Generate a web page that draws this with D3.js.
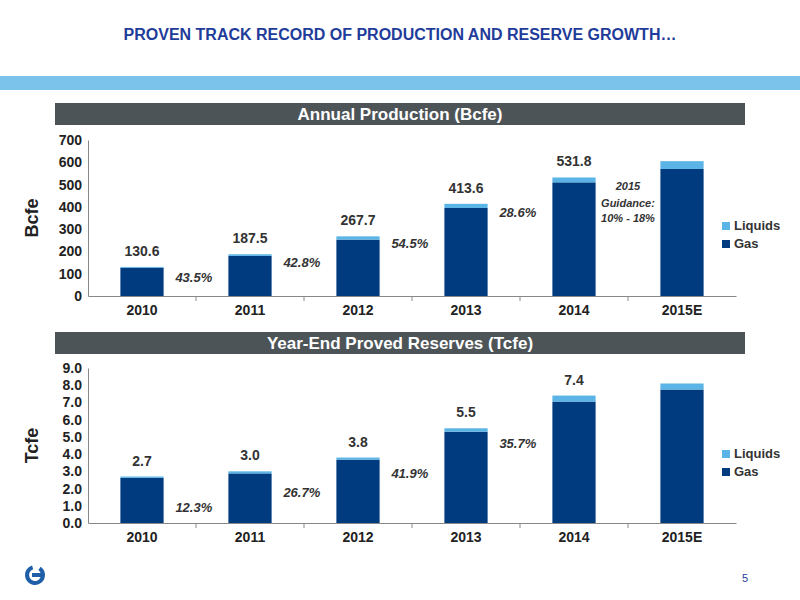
<!DOCTYPE html>
<html><head><meta charset="utf-8">
<script src="https://cdn.jsdelivr.net/npm/d3@7"></script>
<style>body{margin:0;background:#fff;font-family:Arial,"Liberation Sans",sans-serif;}</style>
</head><body><svg id="c" width="800" height="600"></svg>
<script>
// Chart data
const years = ["2010", "2011", "2012", "2013", "2014", "2015E"];
const prodGas = [127, 180, 253, 395, 510, 570];
const prodLiquids = [3.6, 7.5, 14.7, 18.6, 21.8, 35];
const prodLabels = ["130.6", "187.5", "267.7", "413.6", "531.8", ""];
const prodGrowth = ["43.5%", "42.8%", "54.5%", "28.6%"];
const resGas = [2.62, 2.88, 3.68, 5.3, 7.05, 7.75];
const resLiquids = [0.08, 0.12, 0.12, 0.2, 0.35, 0.35];
const resLabels = ["2.7", "3.0", "3.8", "5.5", "7.4", ""];
const resGrowth = ["12.3%", "26.7%", "41.9%", "35.7%"];
const prodTicks = [0, 100, 200, 300, 400, 500, 600, 700];
const resTicks = [0, 1, 2, 3, 4, 5, 6, 7, 8, 9];

const GAS = "#003b7f", LIQ = "#5ab4e5";
const X0 = 88;
const svg = d3.select("#c");

svg.append("text").attr("x", 400).attr("y", 40).attr("text-anchor", "middle")
  .attr("fill", "#1f3c9a").attr("font-weight", "bold").attr("font-size", 16)
  .text("PROVEN TRACK RECORD OF PRODUCTION AND RESERVE GROWTH…");
svg.append("rect").attr("x", 0).attr("y", 76).attr("width", 800).attr("height", 14).attr("fill", "#5ab4e5").attr("opacity", 0.8);

function header(y, text) {
  svg.append("rect").attr("x", 55).attr("y", y).attr("width", 690).attr("height", 22).attr("fill", "#4d5458");
  svg.append("text").attr("x", 400).attr("y", y + 17).attr("text-anchor", "middle")
    .attr("fill", "#fff").attr("font-weight", "bold").attr("font-size", 17).text(text);
}

function chart(o) {
  const x = d3.scaleBand().domain(years).range([X0, 736]).paddingInner(0.6).paddingOuter(0.3);
  const step = x.step();
  const y = d3.scaleLinear().domain([0, o.max]).range([o.y0, o.y1]);
  const g = svg.append("g");
  const yAx = g.append("g").attr("transform", `translate(${X0},0)`)
    .call(d3.axisLeft(y).tickValues(o.ticks).tickFormat(o.fmt).tickSize(0).tickPadding(6));
  yAx.select(".domain").attr("stroke", "#888");
  const xAx = g.append("g").attr("transform", `translate(0,${o.y0})`)
    .call(d3.axisBottom(x).tickSize(0).tickPadding(9));
  xAx.select(".domain").attr("stroke", "#888");
  years.slice(1).forEach(yr => {
    const bx = x(yr) - (step - x.bandwidth()) / 2;
    g.append("line").attr("x1", bx).attr("x2", bx).attr("y1", o.y0).attr("y2", o.y0 + 5).attr("stroke", "#888");
  });
  g.selectAll(".tick text").attr("font-size", 14).attr("font-weight", "bold").attr("fill", "#222").attr("font-family", "Arial,Liberation Sans");
  years.forEach((yr, i) => {
    g.append("rect").attr("x", x(yr)).attr("width", x.bandwidth())
      .attr("y", y(o.gas[i])).attr("height", y(0) - y(o.gas[i])).attr("fill", GAS);
    const t = o.gas[i] + o.liq[i];
    g.append("rect").attr("x", x(yr)).attr("width", x.bandwidth())
      .attr("y", y(t)).attr("height", y(o.gas[i]) - y(t)).attr("fill", LIQ);
    if (o.labels[i]) g.append("text").attr("x", x(yr) + x.bandwidth() / 2)
      .attr("y", y(t) - 11).attr("text-anchor", "middle")
      .attr("font-size", 14).attr("font-weight", "bold").attr("fill", "#333").text(o.labels[i]);
  });
  o.growth.forEach((s, i) => {
    g.append("text").attr("x", x(years[i + 1]) - 53).attr("y", o.gy[i])
      .attr("font-size", 13).attr("font-weight", "bold").attr("font-style", "italic").attr("fill", "#333").text(s);
  });
  g.append("text").attr("transform", `translate(38,${(o.y0 + o.y1) / 2}) rotate(-90)`).attr("text-anchor", "middle")
    .attr("font-size", 18).attr("font-weight", "bold").attr("fill", "#222").text(o.unit);
  [["Liquids", LIQ], ["Gas", GAS]].forEach(([n, c], k) => {
    g.append("rect").attr("x", 722).attr("y", o.ly + k * 18 - 8).attr("width", 8).attr("height", 8).attr("fill", c);
    g.append("text").attr("x", 734).attr("y", o.ly + k * 18).attr("font-size", 13).attr("font-weight", "bold").attr("fill", "#333").text(n);
  });
}

header(103, "Annual Production (Bcfe)");
chart({ max: 700, y0: 296, y1: 140, ticks: prodTicks, fmt: d3.format("d"), gas: prodGas, liq: prodLiquids,
  labels: prodLabels, growth: prodGrowth, gy: [282, 267, 248, 217], unit: "Bcfe", ly: 230 });
[["2015", 190], ["Guidance:", 207], ["10% - 18%", 222]].forEach(([t, yy]) =>
  svg.append("text").attr("x", 628).attr("y", yy).attr("text-anchor", "middle").attr("font-size", 11)
    .attr("font-weight", "bold").attr("font-style", "italic").attr("fill", "#333").text(t));

header(332, "Year-End Proved Reserves (Tcfe)");
chart({ max: 9, y0: 523, y1: 368, ticks: resTicks, fmt: d3.format(".1f"), gas: resGas, liq: resLiquids,
  labels: resLabels, growth: resGrowth, gy: [512, 497, 478, 448], unit: "Tcfe", ly: 458 });

// logo and page number
const logo = svg.append("g").attr("transform", "translate(35,575)");
logo.append("path").attr("d", d3.arc()({ innerRadius: 6, outerRadius: 10, startAngle: 0.6, endAngle: 2 * Math.PI - 0.3 })).attr("fill", "#1f5fa8");
logo.append("rect").attr("x", -3).attr("y", -2).attr("width", 12).attr("height", 4).attr("fill", "#1f5fa8");
svg.append("text").attr("x", 742).attr("y", 582).attr("font-size", 11).attr("fill", "#1f3c9a").text("5");
</script></body></html>
